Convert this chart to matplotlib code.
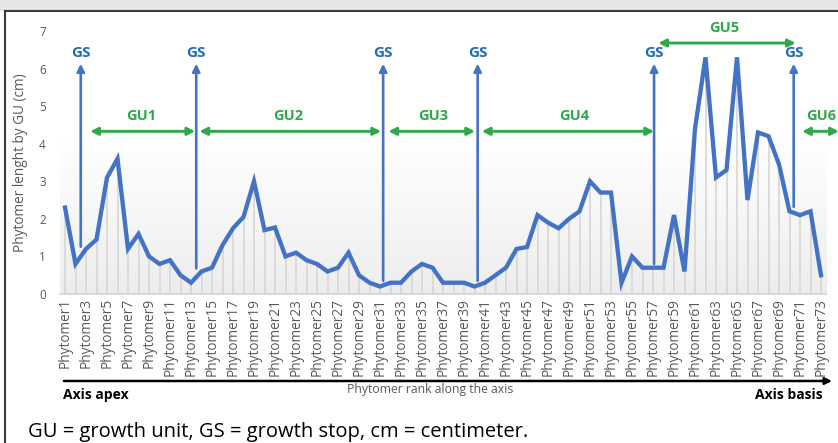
import numpy as np
from matplotlib import pyplot as plt
from matplotlib.colors import LinearSegmentedColormap
from matplotlib.patches import Rectangle
from matplotlib.lines import Line2D

# phytomer lengths (cm), apex -> basis
lengths = [2.3, 0.8, 1.2, 1.45, 3.1, 3.6, 1.2, 1.6, 1.0, 0.8,
           0.9, 0.5, 0.3, 0.6, 0.7, 1.3, 1.75, 2.05, 3.0, 1.7,
           1.77, 1.0, 1.1, 0.9, 0.8, 0.6, 0.7, 1.1, 0.5, 0.3,
           0.2, 0.3, 0.3, 0.6, 0.8, 0.7, 0.3, 0.3, 0.3, 0.2,
           0.3, 0.5, 0.7, 1.2, 1.25, 2.1, 1.9, 1.75, 2.0, 2.2,
           3.0, 2.7, 2.7, 0.3, 1.0, 0.7, 0.7, 0.7, 2.1, 0.6,
           4.4, 6.3, 3.1, 3.3, 6.3, 2.5, 4.3, 4.2, 3.45, 2.2,
           2.1, 2.2, 0.5]
phytomers = ["Phytomer%d" % (i + 1) for i in range(len(lengths))]

# growth stops: position along the axis and where the arrow starts
gs_pos = [2.5, 13.5, 31.3, 40.3, 57.1, 70.4]
gs_from = [1.26, 0.68, 0.35, 0.35, 0.8, 2.32]

# growth units
gu_names = ["GU1", "GU2", "GU3", "GU4", "GU5", "GU6"]
gu_start = [3.4, 13.8, 31.8, 40.7, 57.5, 71.2]
gu_end = [13.4, 31.1, 40.05, 57.1, 70.6, 74.7]
gu_label_x = [8.3, 22.3, 36.05, 49.5, 63.8, 73.05]

BLUE = "#4472C4"
GS_BLUE = "#1F6DB8"
GREEN = "#2EA84A"
GREY = "#595959"

plt.rcParams['font.family'] = ['Open Sans', 'DejaVu Sans']

W, H = 838, 443
fig = plt.figure(figsize=(W / 100, H / 100), dpi=100)

# frame: grey band on top and dark border
fig.patches.append(Rectangle((0, 1 - 10 / H), 1, 10 / H, transform=fig.transFigure,
                             color="#e6e6e6", zorder=0))
fig.add_artist(Line2D([5 / W, 1], [1 - 10.5 / H, 1 - 10.5 / H], color="#3a3a3a", lw=1.5))
fig.add_artist(Line2D([5 / W, 5 / W], [0, 1 - 10.5 / H], color="#3a3a3a", lw=1.5))

ax = fig.add_axes([59.75 / W, 149 / H, 766.5 / W, 263 / H])
x = np.arange(1, len(lengths) + 1)

# soft gradient behind the series
cmap = LinearSegmentedColormap.from_list("bg", ["#ffffff", "#ededed"])
ax.imshow(np.linspace(0, 1, 256).reshape(-1, 1), cmap=cmap, aspect="auto",
          extent=(0.5, len(lengths) + 0.5, 0, 4.05), zorder=0)

ax.vlines(x, 0, lengths, color="#d9d9d9", lw=1.3, zorder=1)
ax.plot(x, lengths, color=BLUE, lw=3.1, solid_joinstyle="miter", zorder=3)

ax.set_xlim(0.5, len(lengths) + 0.5)
ax.set_ylim(0, 7)
ax.set_yticks(range(0, 8))
ax.set_xticks(x[::2])
ax.set_xticklabels(phytomers[::2], rotation=90, fontsize=9.8, color=GREY)
ax.tick_params(axis="both", length=0, labelcolor=GREY)
ax.tick_params(axis="y", labelsize=8.5, pad=10)
ax.tick_params(axis="x", pad=3)
for s in ["top", "left", "right"]:
    ax.spines[s].set_visible(False)
ax.spines["bottom"].set_color("#d9d9d9")
ax.spines["bottom"].set_linewidth(1.5)
ax.set_ylabel("Phytomer lenght by GU (cm)", fontsize=9.8, color=GREY, labelpad=8)

# growth stop arrows
for p, b in zip(gs_pos, gs_from):
    ax.annotate("", xy=(p, 6.13), xytext=(p, b),
                arrowprops=dict(arrowstyle="-|>", color=BLUE, lw=1.9,
                                mutation_scale=11, shrinkA=0, shrinkB=0), zorder=4)
    ax.text(p, 6.42, "GS", color=GS_BLUE, fontsize=11, fontweight="bold",
            ha="center", va="center")

# growth unit arrows
for i, name in enumerate(gu_names):
    yv = 6.68 if name == "GU5" else 4.33
    ax.annotate("", xy=(gu_end[i], yv), xytext=(gu_start[i], yv),
                arrowprops=dict(arrowstyle="<|-|>", color=GREEN, lw=2.1,
                                mutation_scale=11, shrinkA=0, shrinkB=0),
                annotation_clip=False, zorder=4)
    ax.text(gu_label_x[i], yv + 0.4, name, color=GREEN, fontsize=10.5,
            fontweight="bold", ha="center", va="center", clip_on=False)

# axis direction arrow and labels
ax.annotate("", xy=(832, H - 381), xytext=(64, H - 381), xycoords="figure pixels",
            textcoords="figure pixels",
            arrowprops=dict(arrowstyle="-|>", color="black", lw=1.8,
                            mutation_scale=10, shrinkA=0, shrinkB=0))
fig.text(430 / W, 1 - 389 / H, "Phytomer rank along the axis", fontsize=8.8,
         color=GREY, ha="center", va="center")
fig.text(63 / W, 1 - 395 / H, "Axis apex", fontsize=10, fontweight="bold",
         ha="left", va="center")
fig.text(823 / W, 1 - 395 / H, "Axis basis", fontsize=10, fontweight="bold",
         ha="right", va="center")
fig.text(28 / W, 1 - 432 / H, "GU = growth unit, GS = growth stop, cm = centimeter.",
         fontsize=14.5, ha="left", va="center")

fig.savefig("out.png", dpi=100)
